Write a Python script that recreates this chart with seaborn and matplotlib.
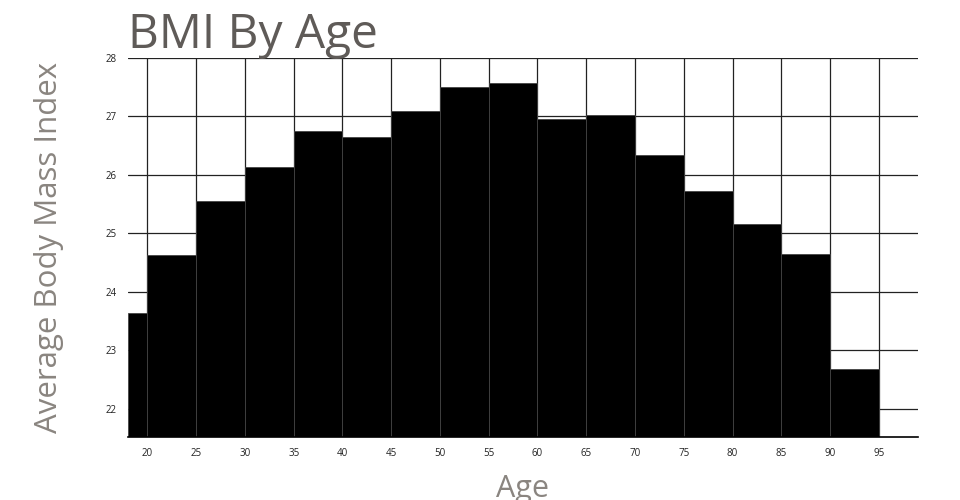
import seaborn as sns
import pandas as pd
import matplotlib.pyplot as plt

# age bins (edges) and average BMI per bin
bin_edges = [18, 20, 25, 30, 35, 40, 45, 50, 55, 60, 65, 70, 75, 80, 85, 90, 95]
bmi_values = [23.64, 24.63, 25.56, 26.14, 26.75, 26.65, 27.09, 27.50, 27.57,
              26.96, 27.03, 26.34, 25.73, 25.16, 24.65, 22.68]
x_ticks = list(range(20, 100, 5))
y_ticks = [22, 23, 24, 25, 26, 27, 28]

# one row per bin, positioned at the bin midpoint, weighted by its BMI
mids = [(a + b) / 2 for a, b in zip(bin_edges[:-1], bin_edges[1:])]
df = pd.DataFrame({"age": mids, "bmi": bmi_values})

sns.set_style("white")
plt.rcParams['font.family'] = ['Open Sans', 'DejaVu Sans']

fig = plt.figure(figsize=(9.6, 5), dpi=100)
ax = fig.add_axes([0.1333, 0.126, 0.8227, 0.758])

sns.histplot(data=df, x="age", weights="bmi", bins=bin_edges, stat="count",
             color="black", alpha=1, edgecolor="#444444", linewidth=0.6, ax=ax)

ax.set_xlim(18, 99)
ax.set_ylim(21.52, 28)
ax.set_xticks(x_ticks)
ax.set_yticks(y_ticks)
ax.set_axisbelow(True)
ax.grid(True, color="#222222", linewidth=0.9)
for side in ["top", "right", "left"]:
    ax.spines[side].set_visible(False)
ax.spines["bottom"].set_color("black")
ax.spines["bottom"].set_linewidth(1.2)
ax.tick_params(axis="both", length=0, labelsize=7, colors="#222222", pad=8)

ax.set_xlabel("Age", fontsize=22, color="#8a8580", labelpad=11)
ax.set_ylabel("Average Body Mass Index", fontsize=22.5, color="#8a8580", labelpad=30)
fig.text(0.1333, 0.904, "BMI By Age", fontsize=34.5, color="#5f5b58", ha="left", va="baseline")

plt.savefig("out.png", dpi=100)
